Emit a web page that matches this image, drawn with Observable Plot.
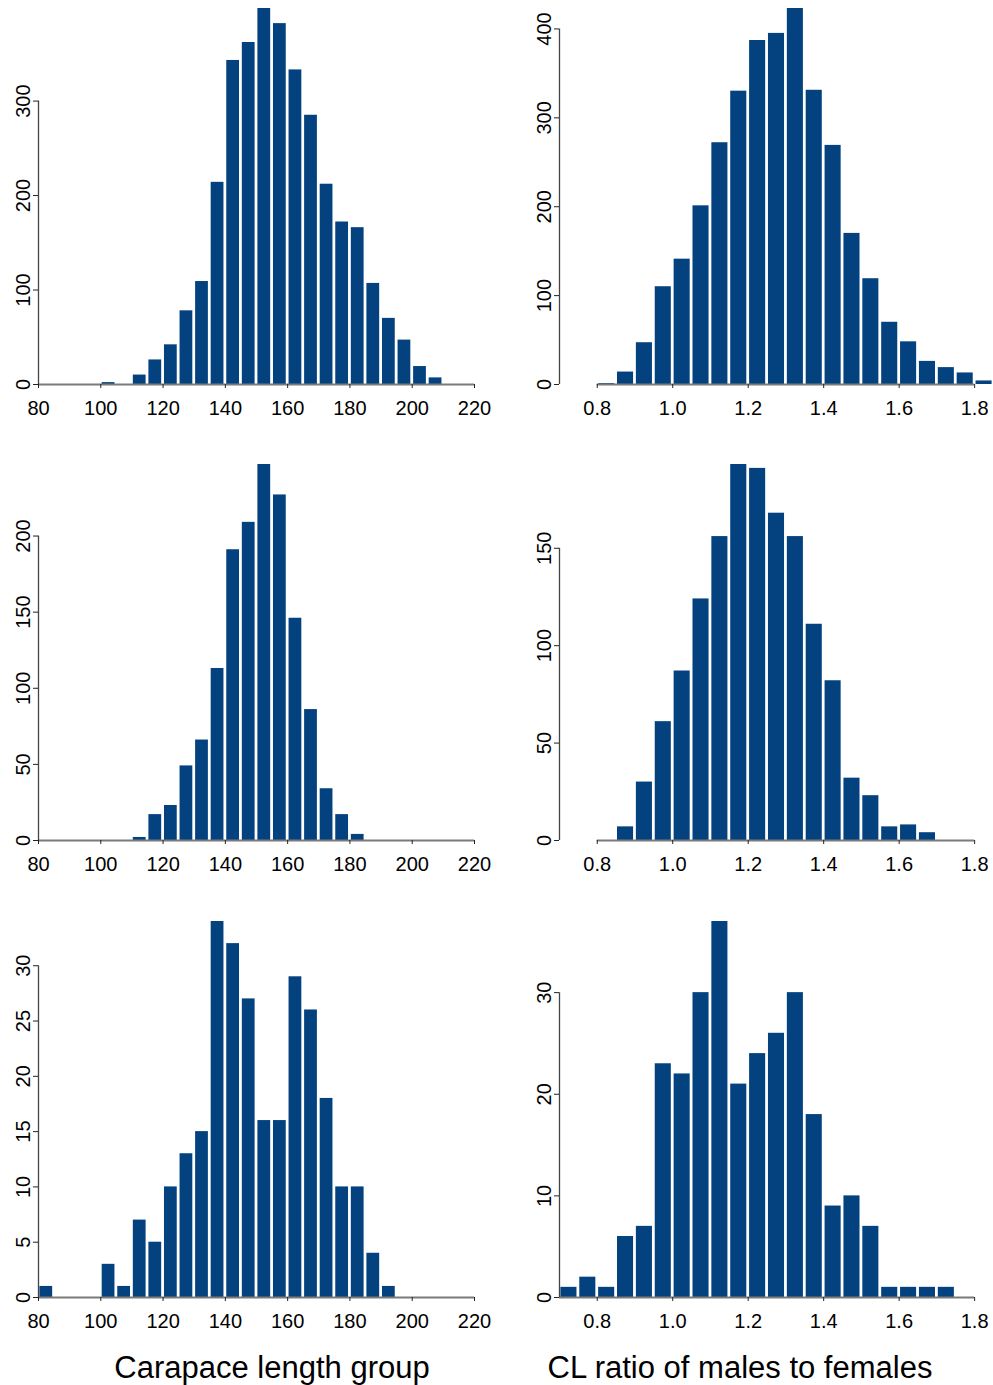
<!DOCTYPE html>
<html><head><meta charset="utf-8">
<script src="https://cdn.jsdelivr.net/npm/d3@7"></script>
<script src="https://cdn.jsdelivr.net/npm/@observablehq/plot@0.6"></script>
<style>
body{margin:0;background:#fff;}
#wrap{position:relative;width:993px;height:1385px;overflow:hidden;background:#fff;font-family:"Liberation Sans",Arial,sans-serif;}
.panel{position:absolute;}
.title{position:absolute;font-size:31px;line-height:1;color:#000;white-space:nowrap;transform:translateX(-50%);}
</style></head><body><div id="wrap"></div>
<script>
// ---- Data ----
const clBinWidth = 5;
const ratioBinWidth = 0.05;

// Top-left: carapace length group
const clStartA = [100,110,115,120,125,130,135,140,145,150,155,160,165,170,175,180,185,190,195,200,205];
const clCountA = [2,10,26,42,78,109,214,343,362,398,382,333,285,212,172,166,107,70,47,19,7];
// Top-right: CL ratio
const ratioStartA = [0.80,0.85,0.90,0.95,1.00,1.05,1.10,1.15,1.20,1.25,1.30,1.35,1.40,1.45,1.50,1.55,1.60,1.65,1.70,1.75,1.80];
const ratioCountA = [1,14,47,110,141,201,272,330,387,395,423,331,269,170,119,70,48,26,19,13,4];

// Middle-left
const clStartB = [110,115,120,125,130,135,140,145,150,155,160,165,170,175,180];
const clCountB = [2,17,23,49,66,113,191,209,247,227,146,86,34,17,4];
// Middle-right
const ratioStartB = [0.85,0.90,0.95,1.00,1.05,1.10,1.15,1.20,1.25,1.30,1.35,1.40,1.45,1.50,1.55,1.60,1.65];
const ratioCountB = [7,30,61,87,124,156,193,191,168,156,111,82,32,23,7,8,4];

// Bottom-left
const clStartC = [80,100,105,110,115,120,125,130,135,140,145,150,155,160,165,170,175,180,185,190];
const clCountC = [1,3,1,7,5,10,13,15,34,32,27,16,16,29,26,18,10,10,4,1];
// Bottom-right
const ratioStartC = [0.70,0.75,0.80,0.85,0.90,0.95,1.00,1.05,1.10,1.15,1.20,1.25,1.30,1.35,1.40,1.45,1.50,1.55,1.60,1.65,1.70];
const ratioCountC = [1,2,1,6,7,23,22,30,37,21,24,26,30,18,9,10,7,1,1,1,1];

// Ticks
const clTicks = [80,100,120,140,160,180,200,220];
const ratioTicks = [0.8,1.0,1.2,1.4,1.6,1.8];
const yTicksA = [0,100,200,300];
const yTicksRA = [0,100,200,300,400];
const yTicksB = [0,50,100,150,200];
const yTicksRB = [0,50,100,150];
const yTicksC = [0,5,10,15,20,25,30];
const yTicksRC = [0,10,20,30];

// Axis-line extents (data units)
const clAxisExtent = [80,220];
const ratioAxisExtentA = [0.8,1.8];
const ratioAxisExtentC = [0.7,1.8];

const xLabelLeft = "Carapace length group";
const xLabelRight = "CL ratio of males to females";

// ---- Drawing ----
const navy = "#03427f";
const wrap = document.getElementById("wrap");

function panel({starts, counts, bw, xDomain, xTicks, tickFmt, axisExt, yTicks, left, top, width, mLeft, mRight}) {
  const data = starts.map((s, i) => ({x0: s, x1: s + bw, n: counts[i]}));
  const ymax = d3.max(counts);
  const chart = Plot.plot({
    width, height: 456,
    marginLeft: mLeft, marginRight: mRight, marginTop: 8, marginBottom: 72,
    style: {fontFamily: '"Liberation Sans", Arial, sans-serif', fontSize: "20px", color: "#000", background: "transparent", overflow: "visible"},
    x: {domain: xDomain, axis: null},
    y: {domain: [0, ymax], axis: null},
    marks: [
      Plot.rectY(data, {x1: "x0", x2: "x1", y: "n", fill: navy, insetLeft: 1.4, insetRight: 1.4}),
      Plot.ruleY([{y: 0, a: axisExt[0], b: axisExt[1]}], {y: "y", x1: "a", x2: "b", stroke: "#7a7a7a", strokeWidth: 2}),
      Plot.ruleX([{x: xDomain[0], a: 0, b: yTicks[yTicks.length - 1]}], {x: "x", y1: "a", y2: "b", stroke: "#444", strokeWidth: 1.3}),
      Plot.axisX({ticks: xTicks, tickSize: 4, tickPadding: 12, tickFormat: tickFmt, label: null, stroke: "#222"}),
      Plot.axisY({ticks: yTicks, tickSize: 5, tickPadding: 4, tickRotate: -90, tickFormat: d => String(d), label: null, stroke: "#222"})
    ]
  });
  chart.classList.add("panel");
  chart.style.left = left + "px";
  chart.style.top = top + "px";
  wrap.appendChild(chart);
}

const rowTops = [0, 456, 913];
const leftCfg = {bw: clBinWidth, xDomain: [80, 220], xTicks: clTicks, tickFmt: d => String(d), axisExt: clAxisExtent, left: 0, width: 496, mLeft: 38, mRight: 22};
const rightCfg = {bw: ratioBinWidth, xDomain: [0.7, 1.85], xTicks: ratioTicks, tickFmt: d3.format(".1f"), left: 496, width: 497, mLeft: 63, mRight: 0};

panel({...leftCfg, starts: clStartA, counts: clCountA, yTicks: yTicksA, top: rowTops[0]});
panel({...rightCfg, starts: ratioStartA, counts: ratioCountA, yTicks: yTicksRA, axisExt: ratioAxisExtentA, top: rowTops[0]});
panel({...leftCfg, starts: clStartB, counts: clCountB, yTicks: yTicksB, top: rowTops[1]});
panel({...rightCfg, starts: ratioStartB, counts: ratioCountB, yTicks: yTicksRB, axisExt: ratioAxisExtentA, top: rowTops[1]});
panel({...leftCfg, starts: clStartC, counts: clCountC, yTicks: yTicksC, top: rowTops[2]});
panel({...rightCfg, starts: ratioStartC, counts: ratioCountC, yTicks: yTicksRC, axisExt: ratioAxisExtentC, top: rowTops[2]});

function title(text, cx) {
  const d = document.createElement("div");
  d.className = "title";
  d.textContent = text;
  d.style.left = cx + "px";
  d.style.top = "1352px";
  wrap.appendChild(d);
}
title(xLabelLeft, 272);
title(xLabelRight, 740);
</script></body></html>
